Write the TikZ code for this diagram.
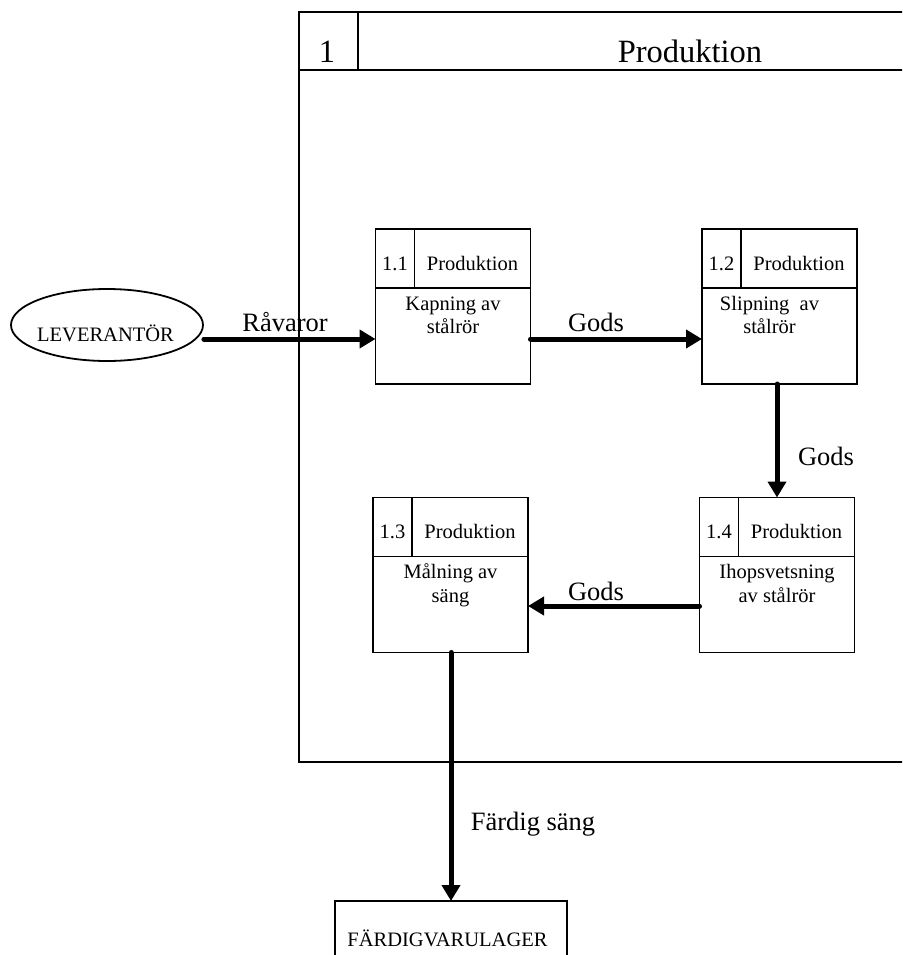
\documentclass[tikz,border=0pt]{standalone}
\usepackage{fontspec}
\setmainfont{Liberation Serif}
\usetikzlibrary{arrows.meta,shapes.geometric}

% one sub-process: name, centre, number, body text (two lines), body x offset
\newcommand\subproc[5]{%
  \node[procbox] (#1) at (#2) {};
  \draw[boxline] ([yshift=-59pt]#1.north west) -- ([yshift=-59pt]#1.north east);
  \draw[boxline] ([xshift=39pt]#1.north west) -- ([xshift=39pt,yshift=-59pt]#1.north west);
  \node[boxtext,anchor=base] (#1-num) at ([xshift=19.5pt,yshift=-41pt]#1.north west) {#3};
  \node[boxtext,anchor=base] (#1-kind) at ([xshift=97pt,yshift=-41pt]#1.north west) {Produktion};
  % base anchor of a two-line node sits on its last line
  \node[boxtext,anchor=base] (#1-body) at ([xshift=#5,yshift=-104.5pt]#1.north) {#4};
}

\begin{document}
\begin{tikzpicture}[x=1pt,y=-1pt,
  frame/.style={line width=2pt},
  boxline/.style={line width=1.8pt},
  procbox/.style={draw,line width=1.8pt,minimum width=155pt,minimum height=155pt,inner sep=0pt,outer sep=0pt},
  flow/.style={line width=5pt,line cap=round,-{Triangle[length=16pt,width=18pt]}},
  boxtext/.style={font=\fontsize{20.5}{23.5}\selectfont,inner sep=0pt,align=center},
  flowlabel/.style={font=\fontsize{26.5}{30}\selectfont,inner sep=0pt,anchor=base},
  titletext/.style={font=\fontsize{32.5}{36}\selectfont,inner sep=0pt,anchor=base},
]
\useasboundingbox (0,0) rectangle (902,955);
\clip (0,0) rectangle (902,955);

% process 1 frame with its header
\draw[frame] (910,12) -- (299,12) -- (299,762) -- (910,762);
\draw[frame] (299,70) -- (910,70);
\draw[frame] (358,12) -- (358,70);
\node[titletext] (pnum) at (327,63) {1};
\node[titletext] (ptitle) at (690,63) {Produktion};

% sub-processes
\subproc{p11}{453,306.5}{1.1}{Kapning av\\stålrör}{0pt}
\subproc{p12}{779.5,306.5}{1.2}{Slipning\ \ av\\stålrör}{-10pt}
\subproc{p13}{450.5,575}{1.3}{Målning av\\säng}{0pt}
\subproc{p14}{777,575}{1.4}{Ihopsvetsning\\av stålrör}{0pt}

% external entity and store
\node[ellipse,draw,line width=1.8pt,minimum width=192pt,minimum height=72pt,inner sep=0pt] (lev) at (107,325) {};
\node[boxtext,anchor=base] (levtext) at (105.5,341) {LEVERANTÖR};
\node[draw,line width=1.8pt,minimum width=232pt,minimum height=80pt,inner sep=0pt,outer sep=0pt] (lager) at (451,941) {};
\node[boxtext,anchor=base] (lagertext) at (447.5,946) {FÄRDIGVARULAGER};

% flows
\draw[flow] ([yshift=-14pt]lev.east) -- ([yshift=-32.5pt]p11.west);
\draw[flow] ([yshift=-32.5pt]p11.east) -- ([yshift=-32.5pt]p12.west);
\draw[flow] (p12.south -| p14.north) -- (p14.north);
\draw[flow] ([yshift=-31pt]p14.west) -- ([yshift=-31pt]p13.east);
\draw[flow] (p13.south -| lager.north) -- (lager.north);

% flow labels
\node[flowlabel] (lraw) at (285,331) {Råvaror};
\node[flowlabel] (lg1) at (596,331) {Gods};
\node[flowlabel] (lg2) at (826,465) {Gods};
\node[flowlabel] (lg3) at (596,600) {Gods};
\node[flowlabel] (lfin) at (533,830) {Färdig säng};
\end{tikzpicture}
\end{document}
